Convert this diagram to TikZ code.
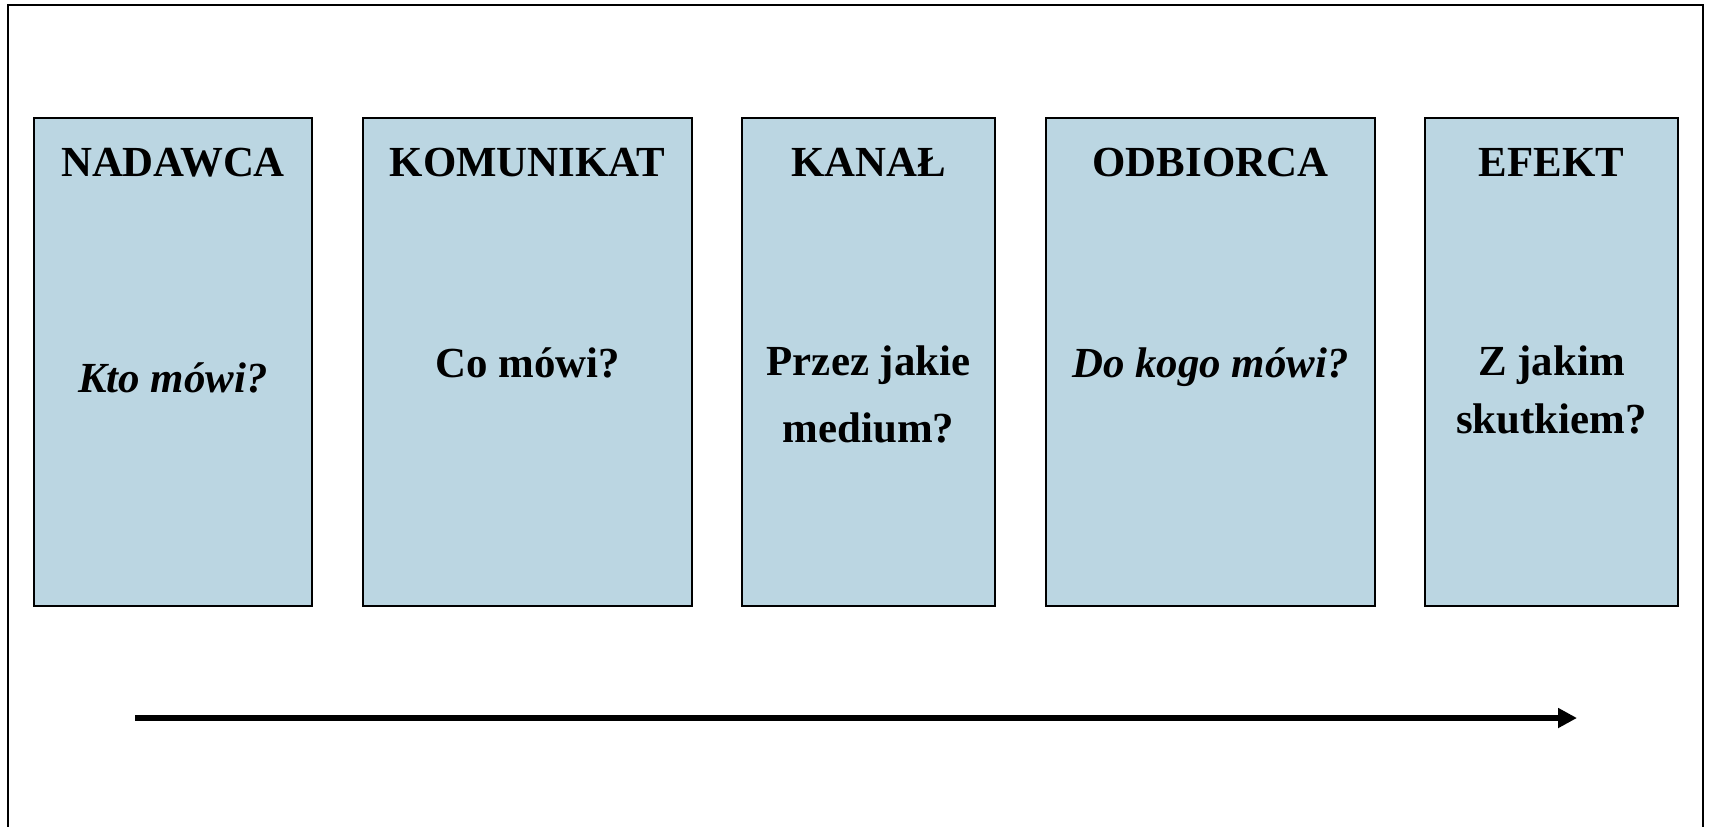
\documentclass[tikz,border=0pt]{standalone}
\usepackage{fontspec}
\setmainfont{Liberation Serif}
\usetikzlibrary{arrows.meta}
\definecolor{boxblue}{HTML}{BBD6E2}

\begin{document}
\begin{tikzpicture}[x=0.02cm, y=-0.02cm,
  box/.style={rectangle, draw, line width=0.8pt, fill=boxblue, minimum height=9.76cm},
  head/.style={anchor=base, font=\fontsize{24.4}{24.4}\selectfont\bfseries},
  ask/.style={anchor=base, align=center, font=\fontsize{24.4}{38}\selectfont\bfseries}]
\useasboundingbox (0,0) rectangle (1709,826);
\clip (0,0) rectangle (1709,826);
\draw [line width=1.1pt] (8,5) rectangle (1703,870);

\node (nadawca) at (173,362) [box, minimum width=5.56cm] {};
\node (komunikat) at (527.5,362) [box, minimum width=6.58cm] {};
\node (kanal) at (868.5,362) [box, minimum width=5.06cm] {};
\node (odbiorca) at (1210.5,362) [box, minimum width=6.58cm] {};
\node (efekt) at (1551.5,362) [box, minimum width=5.06cm] {};

\node (nadawcaT) at (173,176) [head] {NADAWCA};
\node (komunikatT) at (527.5,176) [head] {KOMUNIKAT};
\node (kanalT) at (868.5,176) [head] {KANAŁ};
\node (odbiorcaT) at (1210.5,176) [head] {ODBIORCA};
\node (efektT) at (1551.5,176) [head] {EFEKT};

\node (kto) at (173,392) [ask] {\itshape Kto mówi?};
\node (co) at (527.5,377) [ask] {Co mówi?};
\node (jakie) at (868.5,442) [ask] {Przez jakie\\medium?};
\node (dokogo) at (1210.5,377) [ask] {\itshape Do kogo mówi?};
\node (skutek) at (1551.5,433) [ask, font=\fontsize{24.4}{33}\selectfont\bfseries] {Z jakim\\skutkiem?};

\coordinate (start) at (135,718);
\coordinate (end) at (1577,718);
\draw [-{Triangle[length=0.38cm,width=0.38cm]}, line width=0.13cm] (start) -- (end);
\end{tikzpicture}
\end{document}
